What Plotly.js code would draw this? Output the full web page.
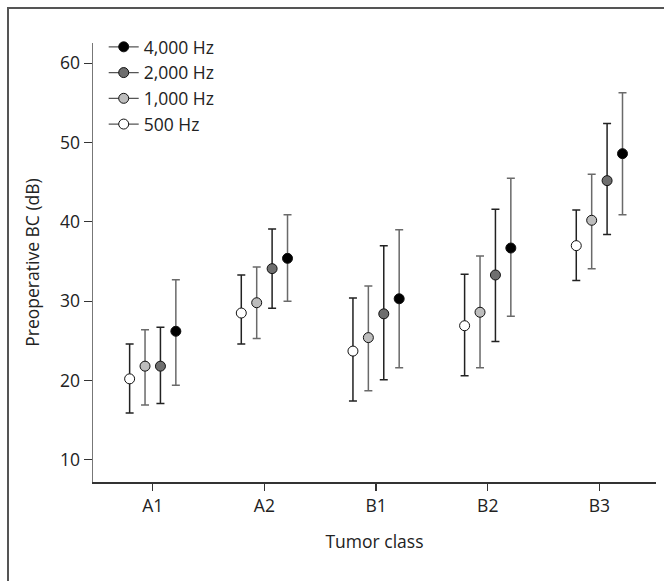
<!DOCTYPE html>
<html>
<head>
<meta charset="utf-8">
<script src="https://cdn.plot.ly/plotly-3.0.1.min.js"></script>
<style>
  html, body { margin: 0; padding: 0; background: #fff; }
  #wrap { position: relative; width: 664px; height: 581px; }
  #chart { position: absolute; left: 0; top: 0; width: 664px; height: 581px; }
  #frame { position: absolute; left: 7px; top: 7px; right: -4px; bottom: -4px;
           border-top: 2px solid #555; border-left: 2px solid #555; pointer-events: none; }
</style>
</head>
<body>
<div id="wrap">
  <div id="chart"></div>
  <div id="frame"></div>
</div>
<script>
// Tumor classes on the x axis
const tumorClasses = ["A1", "A2", "B1", "B2", "B3"];

// Mean preoperative bone conduction (dB) per frequency
const mean500  = [20.2, 28.5, 23.7, 26.9, 37.0];
const mean1000 = [21.8, 29.8, 25.4, 28.6, 40.2];
const mean2000 = [21.8, 34.1, 28.4, 33.3, 45.2];
const mean4000 = [26.2, 35.4, 30.3, 36.7, 48.6];

// Upper and lower whisker ends (dB)
const upper500  = [24.6, 33.3, 30.4, 33.4, 41.5];
const lower500  = [15.9, 24.6, 17.4, 20.6, 32.6];
const upper1000 = [26.4, 34.3, 31.9, 35.7, 46.0];
const lower1000 = [16.9, 25.3, 18.7, 21.6, 34.1];
const upper2000 = [26.7, 39.1, 37.0, 41.6, 52.4];
const lower2000 = [17.1, 29.1, 20.1, 24.9, 38.4];
const upper4000 = [32.7, 40.9, 39.0, 45.5, 56.3];
const lower4000 = [19.4, 30.0, 21.6, 28.1, 40.9];

const seriesNames = ["500 Hz", "1,000 Hz", "2,000 Hz", "4,000 Hz"];

const FONT = "'Open Sans', 'Noto Sans', sans-serif";
const FS = 17.5;

// Each point is kept apart by a gap so the legend can show a line symbol
// without joining the points in the plot.
function series(name, means, ups, lows, offset, fill, barColor) {
  const x = [], y = [], ep = [], em = [];
  means.forEach((m, i) => {
    x.push(i + offset); y.push(m);
    ep.push(+(ups[i] - m).toFixed(2)); em.push(+(m - lows[i]).toFixed(2));
    if (i < means.length - 1) { x.push(null); y.push(null); ep.push(0); em.push(0); }
  });
  return {
    type: "scatter", mode: "lines+markers", name: name,
    x: x, y: y, connectgaps: false,
    line: { color: "#555", width: 1.2 },
    marker: { size: 10, color: fill, line: { color: "#111", width: 1 } },
    error_y: { type: "data", symmetric: false, array: ep, arrayminus: em,
               color: barColor, thickness: 1.5, width: 4 },
    hoverinfo: "x+y"
  };
}

const step = 0.138;
const data = [
  series(seriesNames[0], mean500,  upper500,  lower500,  -1.5 * step, "#ffffff", "#222"),
  series(seriesNames[1], mean1000, upper1000, lower1000, -0.5 * step, "#bdbdbd", "#6a6a6a"),
  series(seriesNames[2], mean2000, upper2000, lower2000,  0.5 * step, "#6e6e6e", "#222"),
  series(seriesNames[3], mean4000, upper4000, lower4000,  1.5 * step, "#000000", "#6a6a6a")
];

const layout = {
  width: 664, height: 581,
  margin: { l: 93, r: 8, t: 43, b: 99 },
  paper_bgcolor: "rgba(0,0,0,0)", plot_bgcolor: "rgba(0,0,0,0)",
  font: { family: FONT, size: FS, color: "#222" },
  showlegend: true,
  legend: {
    x: 0.019, y: 1.032, xanchor: "left", yanchor: "top",
    traceorder: "reversed", bgcolor: "rgba(0,0,0,0)",
    font: { family: FONT, size: FS, color: "#222" },
    itemwidth: 30, tracegroupgap: 0
  },
  xaxis: {
    range: [-0.535, 4.507],
    tickmode: "array", tickvals: [0, 1, 2, 3, 4], ticktext: tumorClasses,
    showgrid: false, zeroline: false,
    showline: true, linecolor: "#333", linewidth: 1.5,
    ticks: "outside", ticklen: 7, tickwidth: 1.2, tickcolor: "#333",
    tickfont: { family: FONT, size: FS, color: "#222" },
    title: { text: "Tumor class", standoff: 20, font: { family: FONT, size: FS, color: "#222" } }
  },
  yaxis: {
    range: [7.19, 62.56],
    tickmode: "array", tickvals: [10, 20, 30, 40, 50, 60],
    showgrid: false, zeroline: false,
    showline: true, linecolor: "#777", linewidth: 1.5,
    ticks: "outside", ticklen: 8, tickwidth: 1.2, tickcolor: "#333",
    tickfont: { family: FONT, size: FS, color: "#222" },
    title: { text: "Preoperative BC (dB)", standoff: 16, font: { family: FONT, size: FS, color: "#222" } }
  }
};

Plotly.newPlot("chart", data, layout, { displayModeBar: false, staticPlot: true });
</script>
</body>
</html>
